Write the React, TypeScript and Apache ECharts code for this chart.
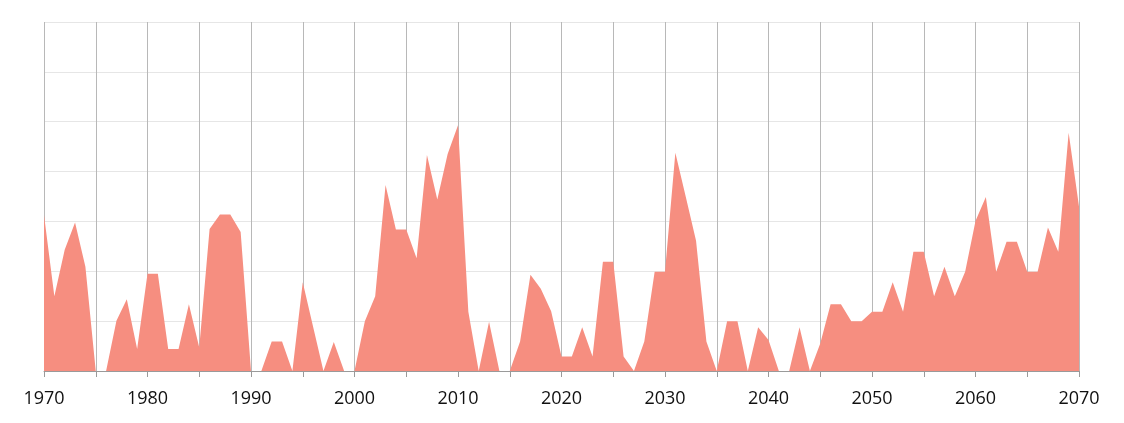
import React, { useEffect, useRef } from "react";
import * as echarts from "echarts";

const startYear = 1970;
const values: number[] = [
  3.13, 1.5, 2.43, 2.98, 2.09, 0, 0, 1.01, 1.44, 0.44,
  1.95, 1.95, 0.44, 0.44, 1.34, 0.47, 2.85, 3.14, 3.14, 2.79,
  0, 0, 0.59, 0.59, 0, 1.78, 0.89, 0, 0.58, 0,
  0, 1.0, 1.5, 3.73, 2.84, 2.84, 2.26, 4.33, 3.44, 4.35,
  4.93, 1.19, 0, 0.99, 0, 0, 0.59, 1.93, 1.65, 1.2,
  0.29, 0.29, 0.88, 0.29, 2.19, 2.19, 0.29, 0, 0.59, 1.99,
  1.99, 4.38, 3.5, 2.61, 0.59, 0, 1.0, 1.0, 0, 0.88,
  0.62, 0, 0, 0.88, 0, 0.55, 1.34, 1.34, 1.0, 1.0,
  1.19, 1.19, 1.78, 1.19, 2.39, 2.39, 1.5, 2.09, 1.5, 1.99,
  3.01, 3.49, 1.99, 2.59, 2.59, 1.99, 1.99, 2.88, 2.39, 4.78,
  3.3,
];
const years: number[] = values.map((_, i) => startYear + i);

export default function App() {
  const ref = useRef<HTMLDivElement>(null);
  useEffect(() => {
    if (!ref.current) return;
    const chart = echarts.init(ref.current, undefined, { renderer: "svg" });
    chart.setOption({
      animation: false,
      grid: { left: 44, right: 45, top: 22, bottom: 52 },
      xAxis: {
        type: "value",
        min: 1970,
        max: 2070,
        interval: 5,
        axisLine: { show: true, lineStyle: { color: "#9a9a9a", width: 1 } },
        axisTick: { show: true, length: 6, lineStyle: { color: "#9a9a9a" } },
        axisLabel: {
          fontFamily: "Open Sans",
          fontSize: 18,
          color: "#111",
          margin: 17,
          formatter: (v: number) => (v % 10 === 0 ? String(v) : ""),
        },
        splitLine: { show: true, lineStyle: { color: "#b8b8b8", width: 1 } },
      },
      yAxis: {
        type: "value",
        min: 0,
        max: 7,
        interval: 1,
        axisLine: { show: false },
        axisTick: { show: false },
        axisLabel: { show: false },
        splitLine: { show: true, lineStyle: { color: "#e6e6e6", width: 1 } },
      },
      series: [
        {
          type: "line",
          data: years.map((y, i) => [y, values[i]]),
          symbol: "none",
          lineStyle: { width: 0 },
          areaStyle: { color: "#F68E80", opacity: 1 },
          itemStyle: { color: "#F68E80" },
        },
      ],
    });
    return () => chart.dispose();
  }, []);
  return (
    <div
      ref={ref}
      style={{ position: "fixed", left: 0, top: 0, width: 1124, height: 423 }}
    />
  );
}
